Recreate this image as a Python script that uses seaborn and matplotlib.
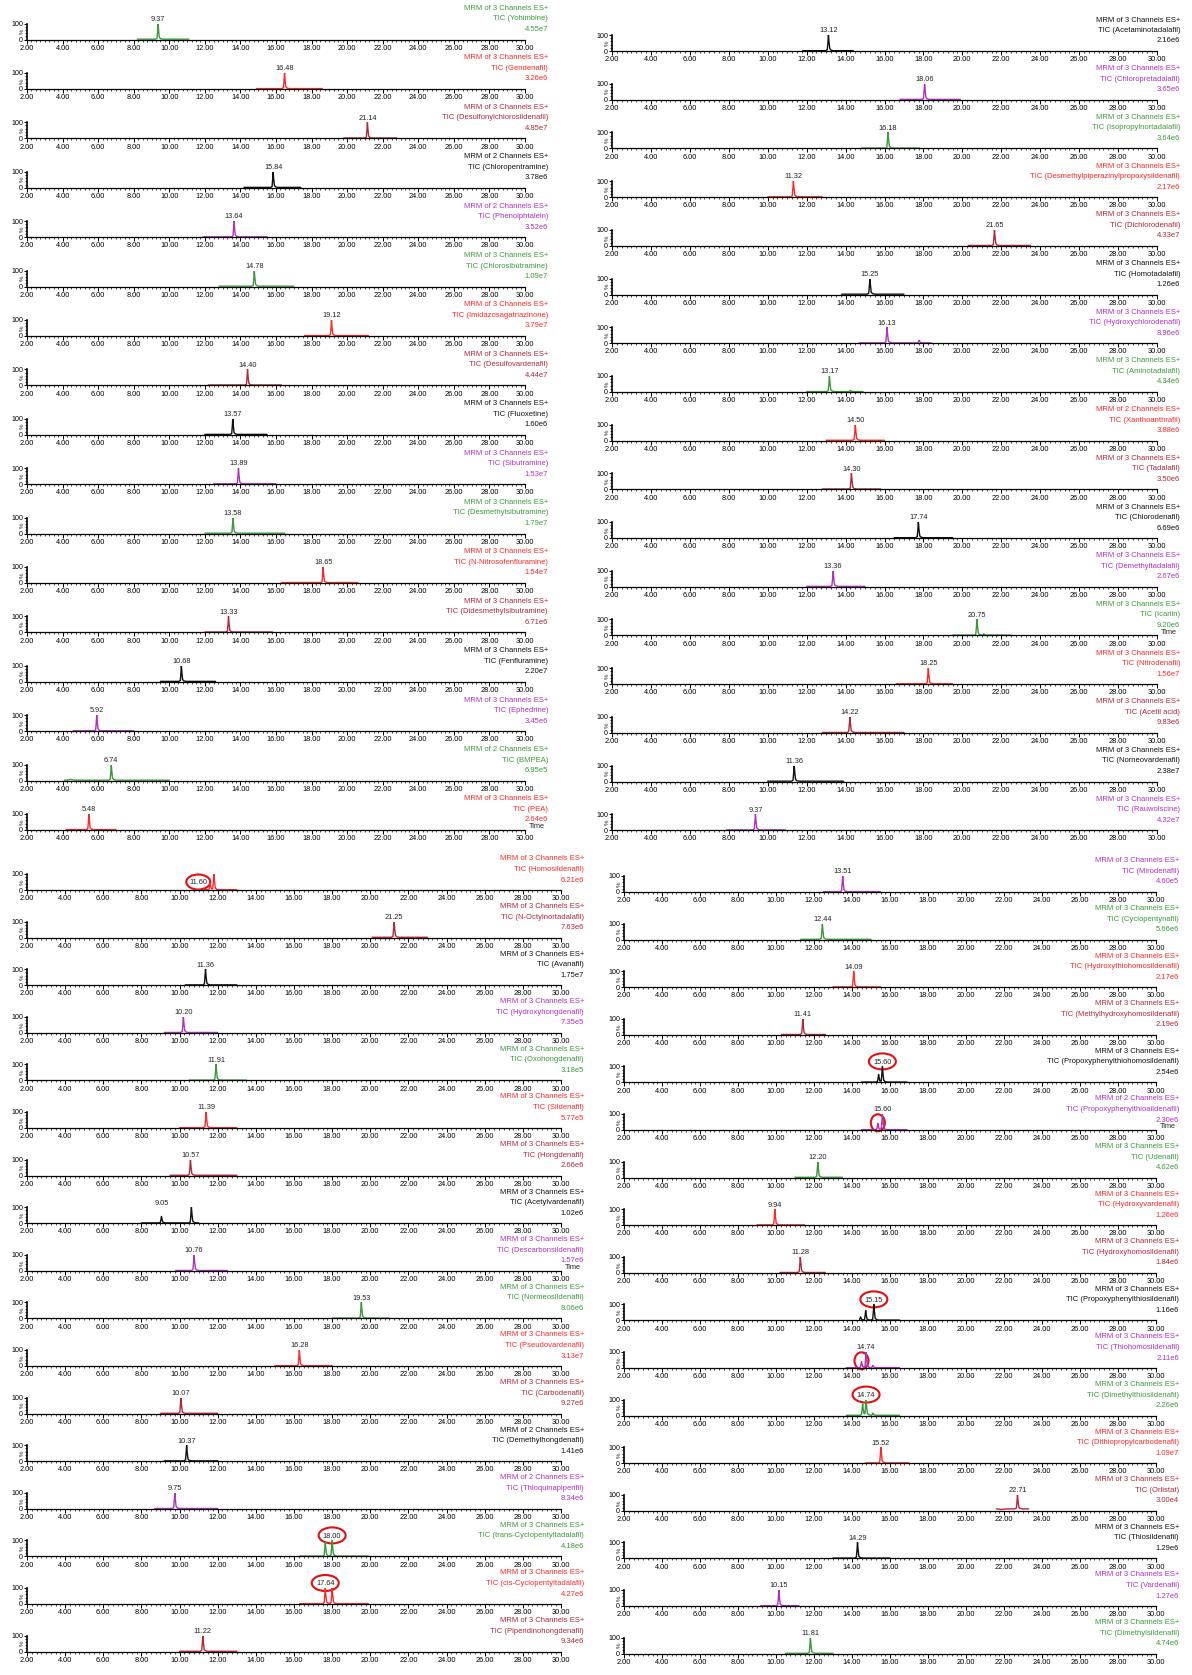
import numpy as np
import matplotlib
matplotlib.use("Agg")
import matplotlib.pyplot as plt
import matplotlib.transforms as mtransforms
from matplotlib.patches import Ellipse
from matplotlib.ticker import MultipleLocator, FixedLocator, FuncFormatter
import seaborn as sns

# ---------------------------------------------------------------- colours
COLORS = {"g": "#3a9a3a", "r": "#ff2828", "m": "#b0283a", "k": "#101010", "p": "#b030c0"}

# ---------------------------------------------------------------- column 1 (upper left)
tl_names = ["Yohimbine", "Gendenafil", "Desulfonylchlorosildenafil", "Chloropentramine",
            "Phenolphtalein", "Chlorosibutramine", "Imidazosagatriazinone", "Desulfovardenafil",
            "Fluoxetine", "Sibutramine", "Desmethylsibutramine", "N-Nitrosofenfluramine",
            "Didesmethylsibutramine", "Fenfluramine", "Ephedrine", "BMPEA", "PEA"]
tl_channels = [3, 3, 3, 2, 2, 3, 3, 3, 3, 3, 3, 3, 3, 3, 3, 2, 3]
tl_colors = ["g", "r", "m", "k", "p", "g", "r", "m", "k", "p", "g", "r", "m", "k", "p", "g", "r"]
tl_scales = ["4.55e7", "3.26e6", "4.85e7", "3.78e6", "3.52e6", "1.09e7", "3.79e7", "4.44e7",
             "1.60e6", "1.53e7", "1.79e7", "1.54e7", "6.71e6", "2.20e7", "3.45e6", "6.95e5", "2.64e6"]
tl_windows = [(8.2, 11.1), (14.9, 18.6), (19.8, 22.8), (14.2, 17.4), (11.9, 15.5), (12.8, 17.0),
              (17.6, 21.2), (12.2, 16.3), (12.0, 15.5), (12.5, 16.0), (12.0, 16.5), (16.3, 20.6),
              (12.0, 15.8), (9.5, 12.6), (4.6, 8.0), (4.1, 10.0), (4.2, 7.0)]
# (retention time, relative height %, width factor, labelled)
tl_peaks = [
    [(9.37, 100, 1, True)],
    [(16.48, 100, 1, True)],
    [(21.14, 100, 1, True)],
    [(15.84, 100, 1, True)],
    [(13.64, 100, 1, True)],
    [(14.78, 100, 1, True)],
    [(19.12, 100, 1, True)],
    [(14.40, 100, 1, True)],
    [(13.57, 100, 1, True)],
    [(13.89, 100, 1, True)],
    [(13.58, 100, 1, True)],
    [(18.65, 100, 1, True)],
    [(13.33, 100, 1, True)],
    [(10.68, 100, 1, True)],
    [(5.92, 100, 1, True)],
    [(4.45, 7, 3, False), (6.74, 100, 1, True)],
    [(5.48, 100, 1, True)],
]

# ---------------------------------------------------------------- column 2 (upper right)
tr_names = ["Acetaminotadalafil", "Chloropretadalafil", "Isopropylnortadalafil",
            "Desmethylpiperazinylpropoxysildenafil", "Dichlorodenafil", "Homotadalafil",
            "Hydroxychlorodenafil", "Aminotadalafil", "Xanthoanthrafil", "Tadalafil",
            "Chlorodenafil", "Demethyltadalafil", "Icariin", "Nitrodenafil", "Acetil acid",
            "Norneovardenafil", "Rauwolscine"]
tr_channels = [3, 3, 3, 3, 3, 3, 3, 3, 2, 3, 3, 3, 3, 3, 3, 3, 3]
tr_colors = ["k", "p", "g", "r", "m", "k", "p", "g", "r", "m", "k", "p", "g", "r", "m", "k", "p"]
tr_scales = ["2.16e6", "3.65e6", "3.64e6", "2.17e6", "4.33e7", "1.26e6", "8.96e6", "4.34e6",
             "3.88e6", "3.50e6", "6.69e6", "2.67e6", "9.20e6", "1.56e7", "9.83e6", "2.38e7", "4.32e7"]
tr_windows = [(11.8, 14.4), (16.8, 19.9), (14.8, 17.8), (10.0, 12.8), (20.3, 23.5), (13.8, 17.0),
              (14.7, 18.4), (12.0, 14.9), (13.0, 16.0), (12.8, 15.8), (16.5, 19.5), (12.0, 15.0),
              (19.5, 22.5), (16.6, 19.5), (12.8, 17.0), (10.0, 13.9), (7.9, 10.9)]
tr_peaks = [
    [(13.12, 100, 1, True)],
    [(18.06, 100, 1, True)],
    [(16.18, 100, 1, True)],
    [(11.32, 100, 1, True)],
    [(21.65, 100, 1, True)],
    [(15.25, 100, 1, True)],
    [(16.13, 100, 1, True), (17.78, 18, 1, False)],
    [(13.17, 100, 1, True), (14.25, 10, 1, False)],
    [(14.50, 100, 1, True)],
    [(14.30, 100, 1, True)],
    [(17.74, 100, 1, True)],
    [(13.36, 100, 1, True)],
    [(20.75, 100, 1, True), (21.10, 10, 1, False)],
    [(18.25, 100, 1, True)],
    [(14.22, 100, 1, True)],
    [(11.36, 100, 1, True)],
    [(9.37, 100, 1, True)],
]

# ---------------------------------------------------------------- column 3 (lower left)
bl_names = ["Homosildenafil", "N-Octylnortadalafil", "Avanafil", "Hydroxyhongdenafil",
            "Oxohongdenafil", "Sildenafil", "Hongdenafil", "Acetylvardenafil",
            "Descarbonsildenafil", "Normeosildenafil", "Pseudovardenafil", "Carbodenafil",
            "Demethylhongdenafil", "Thioquinapiperifil", "trans-Cyclopentyltadalafil",
            "cis-Cyclopentyltadalafil", "Piperidinohongdenafil"]
bl_channels = [3, 3, 3, 3, 3, 3, 3, 3, 3, 3, 3, 3, 2, 2, 3, 3, 3]
bl_colors = ["r", "m", "k", "p", "g", "r", "m", "k", "p", "g", "r", "m", "k", "p", "g", "r", "m"]
bl_scales = ["6.21e6", "7.63e6", "1.75e7", "7.35e5", "3.18e5", "5.77e5", "2.66e6", "1.02e6",
             "1.57e6", "8.06e6", "3.13e7", "9.27e6", "1.41e6", "8.34e6", "4.18e6", "4.27e6", "9.34e6"]
bl_windows = [(10.8, 13.0), (20.1, 23.0), (10.3, 13.0), (9.2, 12.0), (10.5, 13.5), (10.0, 13.0),
              (9.5, 13.0), (8.0, 11.0), (9.8, 12.5), (18.0, 21.0), (15.0, 18.0), (9.0, 12.0),
              (9.2, 12.0), (8.7, 12.0), (16.3, 19.9), (16.3, 19.9), (10.0, 13.0)]
bl_peaks = [
    [(11.60, 40, 1, True), (11.80, 100, 1, False)],
    [(21.25, 100, 1, True)],
    [(11.36, 100, 1, True)],
    [(10.20, 100, 1, True)],
    [(11.91, 100, 1, True)],
    [(11.39, 100, 1, True)],
    [(10.57, 100, 1, True)],
    [(9.05, 42, 1, True), (10.62, 100, 1, False)],
    [(10.76, 100, 1, True)],
    [(19.53, 100, 1, True)],
    [(16.28, 100, 1, True)],
    [(10.07, 100, 1, True)],
    [(10.37, 100, 1, True)],
    [(9.75, 100, 1, True)],
    [(17.64, 88, 1, False), (18.00, 100, 1, True)],
    [(17.64, 100, 1, True), (18.00, 98, 1, False)],
    [(11.22, 100, 1, True)],
]

# ---------------------------------------------------------------- column 4 (lower right)
br_names = ["Mirodenafil", "Cyclopentynafil", "Hydroxythiohomosildenafil",
            "Methylhydroxyhomosildenafil", "Propoxyphenylthiohomosildenafil",
            "Propoxyphenylthioaildenafil", "Udenafil", "Hydroxyvardenafil",
            "Hydroxyhomosildenafil", "Propoxyphenylthiosildenafil", "Thiohomosildenafil",
            "Dimethylthiosildenafil", "Dithiopropylcarbodenafil", "Orlistat", "Thiosildenafil",
            "Vardenafil", "Dimethylsildenafil"]
br_channels = [3, 3, 3, 3, 3, 2, 3, 3, 3, 3, 3, 3, 3, 3, 3, 3, 3]
br_colors = ["p", "g", "r", "m", "k", "p", "g", "r", "m", "k", "p", "g", "r", "m", "k", "p", "g"]
br_scales = ["4.60e5", "5.66e6", "2.17e6", "2.19e6", "2.54e6", "2.30e6", "4.62e6", "1.26e6",
             "1.84e6", "1.16e6", "2.11e6", "2.26e6", "1.09e7", "3.00e4", "1.29e6", "1.27e6", "4.74e6"]
br_windows = [(12.5, 15.5), (11.3, 15.0), (13.0, 15.5), (10.3, 12.6), (14.5, 16.9), (14.5, 16.9),
              (11.0, 13.5), (9.0, 11.5), (10.2, 12.6), (14.4, 16.5), (13.7, 16.5), (13.7, 16.5),
              (14.7, 17.0), (21.6, 23.3), (13.0, 16.0), (9.2, 11.2), (10.5, 13.0)]
br_peaks = [
    [(13.51, 100, 1, True)],
    [(12.44, 100, 1, True)],
    [(14.09, 100, 1, True)],
    [(11.41, 100, 1, True)],
    [(15.40, 50, 1, False), (15.60, 100, 1, True)],
    [(15.36, 42, 1, False), (15.60, 100, 1, True)],
    [(12.20, 100, 1, True)],
    [(9.94, 100, 1, True)],
    [(11.28, 100, 1, True)],
    [(14.45, 22, 1, False), (14.72, 62, 1, False), (15.15, 100, 1, True)],
    [(14.50, 40, 1, False), (14.74, 100, 1, True), (15.10, 16, 1, False)],
    [(14.56, 72, 1, False), (14.74, 100, 1, True), (15.10, 16, 1, False)],
    [(15.52, 100, 1, True)],
    [(21.85, 8, 4, False), (22.71, 100, 1, True)],
    [(14.29, 100, 1, True)],
    [(10.15, 100, 1, True)],
    [(11.81, 100, 1, True)],
]

# highlighted items: panel -> (what is circled, retention time)
bl_circles = {0: ("label", 11.60), 14: ("label", 18.00), 15: ("label", 17.64)}
br_circles = {4: ("label", 15.60), 5: ("peak", 15.36), 9: ("label", 15.15),
              10: ("peak", 14.50), 11: ("label", 14.74)}
# raised baseline level for traces with a high background
br_base = {13: 12}

# ---------------------------------------------------------------- drawing helpers
W, H = 1192, 1675
PEAK_DT = np.array([-0.14, -0.06, -0.025, 0.0, 0.03, 0.07, 0.14, 0.26])
PEAK_FR = np.array([0.0, 0.06, 0.55, 1.0, 0.55, 0.12, 0.03, 0.0])
BASE = 2.0
AX_H = 16.0  # px height of the 0..100 scale


def build_trace(window, peaks, base):
    xs = [window[0], window[1]]
    for rt, h, w, _ in peaks:
        xs.extend(rt + PEAK_DT * w)
    xs = np.unique(np.clip(np.array(xs, dtype=float), window[0], window[1]))
    ys = np.full_like(xs, base)
    for rt, h, w, _ in peaks:
        ys += (h - base) * np.interp(xs, rt + PEAK_DT * w, PEAK_FR, left=0.0, right=0.0)
    return xs, ys


def px_ellipse(fig, ax, x, y, dx_pt, dy_pt, w_px, h_px):
    off = mtransforms.ScaledTranslation(x, y, ax.transData)
    shift = mtransforms.ScaledTranslation(dx_pt / 72.0, dy_pt / 72.0, fig.dpi_scale_trans)
    trans = fig.dpi_scale_trans + off + shift
    e = Ellipse((0, 0), w_px / fig.dpi, h_px / fig.dpi, transform=trans,
                fill=False, edgecolor="#e01010", linewidth=1.5, clip_on=False)
    ax.add_artist(e)


def draw_column(fig, names, channels, colors, scales, windows, peaks, x0, x1, b0, pitch,
                time_idx, circles=None, left_labels=(), bases=None):
    circles = circles or {}
    bases = bases or {}
    for i, name in enumerate(names):
        base_px = b0 + i * pitch
        ax = fig.add_axes([x0 / W, 1 - base_px / H, (x1 - x0) / W, AX_H / H])
        ax.patch.set_alpha(0)
        c = COLORS[colors[i]]
        xs, ys = build_trace(windows[i], peaks[i], bases.get(i, BASE))
        sns.lineplot(x=xs, y=ys, ax=ax, color=c, linewidth=1.0, estimator=None, sort=False)
        ax.set_xlim(2, 30)
        ax.set_ylim(0, 100)
        ax.set_xlabel("")
        ax.set_ylabel("")
        ax.xaxis.set_major_locator(MultipleLocator(2))
        ax.xaxis.set_minor_locator(MultipleLocator(0.25))
        ax.xaxis.set_major_formatter(FuncFormatter(lambda v, p: f"{v:.2f}"))
        ax.set_yticks([0, 100])
        ax.set_yticklabels(["0", "100"])
        ax.yaxis.set_minor_locator(FixedLocator([20, 40, 60, 80]))
        ax.tick_params(axis="x", which="major", length=3.0, width=0.7, labelsize=5.3, pad=0.8)
        ax.tick_params(axis="x", which="minor", length=1.6, width=0.5)
        ax.tick_params(axis="y", which="major", length=2.2, width=0.7, labelsize=5.1, pad=0.6)
        ax.tick_params(axis="y", which="minor", length=1.4, width=0.5)
        for s in ("top", "right"):
            ax.spines[s].set_visible(False)
        ax.spines["left"].set_linewidth(1.2)
        ax.spines["bottom"].set_linewidth(0.9)
        ax.annotate("%", xy=(0, 0.5), xycoords="axes fraction", xytext=(-3.2, 0),
                    textcoords="offset points", rotation=90, ha="center", va="center",
                    fontsize=4.4)

        # peak labels
        for rt, h, w, lab in peaks[i]:
            if not lab:
                continue
            if i in left_labels:
                ax.annotate(f"{rt:.2f}", xy=(rt, 50), xytext=(-8.5, 0), textcoords="offset points",
                            ha="center", va="center", fontsize=5.3, color="#222222")
                if i in circles:
                    px_ellipse(fig, ax, rt, 50, -8.5, 0, 24, 15)
            else:
                ax.annotate(f"{rt:.2f}", xy=(rt, 100), xytext=(0, 0.5), textcoords="offset points",
                            ha="center", va="bottom", fontsize=5.3, color="#222222")
                if i in circles and circles[i][0] == "label":
                    px_ellipse(fig, ax, rt, 100, 0, 3.6, 27, 16)
        if i in circles and circles[i][0] == "peak":
            rt = circles[i][1]
            px_ellipse(fig, ax, rt, 45, 0, 0, 14, 17)

        if i == time_idx:
            ax.annotate("Time", xy=(1, 0), xycoords="axes fraction", xytext=(2.5, 2.2),
                        textcoords="offset points", ha="left", va="center", fontsize=5.3)

        # channel header, three right-aligned lines
        tx = (x1 + 23) / W
        lines = [f"MRM of {channels[i]} Channels ES+", f"TIC ({name})", scales[i]]
        for txt, dy in zip(lines, (31, 20.5, 10)):
            fig.text(tx, 1 - (base_px - dy) / H, txt, ha="right", va="center",
                     fontsize=5.5, color=c)


sns.set_style("ticks")
plt.rcParams["font.family"] = ["Liberation Sans", "DejaVu Sans"]
plt.rcParams["axes.edgecolor"] = "#000000"
plt.rcParams["xtick.color"] = "#000000"
plt.rcParams["ytick.color"] = "#000000"

fig = plt.figure(figsize=(W / 100, H / 100), dpi=100)
fig.patch.set_facecolor("white")

draw_column(fig, tl_names, tl_channels, tl_colors, tl_scales, tl_windows, tl_peaks,
            27, 525, 39.5, 49.4, time_idx=16)
draw_column(fig, tr_names, tr_channels, tr_colors, tr_scales, tr_windows, tr_peaks,
            612, 1157, 51, 48.7, time_idx=12)
draw_column(fig, bl_names, bl_channels, bl_colors, bl_scales, bl_windows, bl_peaks,
            27, 561, 890, 47.6, time_idx=8, circles=bl_circles, left_labels=(0,))
draw_column(fig, br_names, br_channels, br_colors, br_scales, br_windows, br_peaks,
            624, 1156, 892, 47.6, time_idx=5, circles=br_circles, bases=br_base)

fig.savefig("out.png", dpi=100, facecolor="white")
